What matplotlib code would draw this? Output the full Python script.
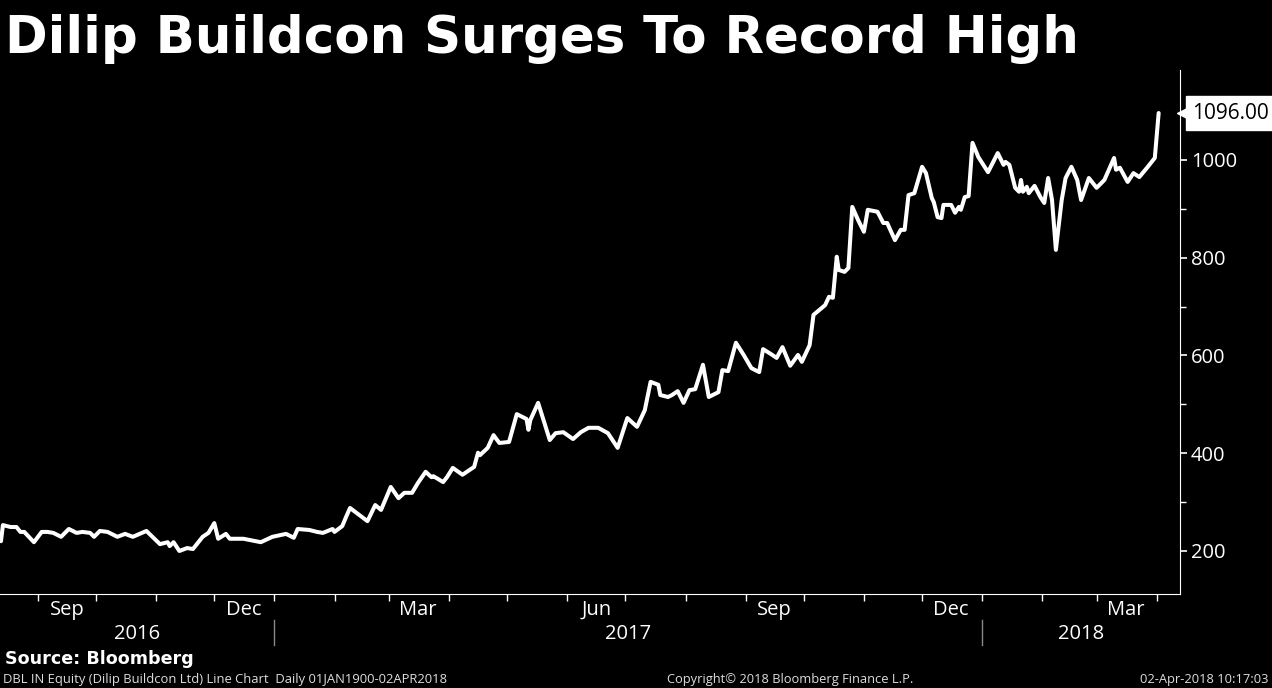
import matplotlib
matplotlib.use('Agg')
import matplotlib.pyplot as plt
import matplotlib.dates as mdates
import pandas as pd

# Kurs Dilip Buildcon (DBL IN)
dates = [
    '2016-08-13', '2016-08-14', '2016-08-18', '2016-08-21', '2016-08-23', '2016-08-25',
    '2016-08-30', '2016-09-03', '2016-09-06', '2016-09-09', '2016-09-13', '2016-09-17',
    '2016-09-21', '2016-09-24', '2016-09-28', '2016-09-30', '2016-10-03', '2016-10-07',
    '2016-10-12', '2016-10-16', '2016-10-20', '2016-10-27', '2016-11-03', '2016-11-07',
    '2016-11-08', '2016-11-10', '2016-11-13', '2016-11-17', '2016-11-20', '2016-11-25',
    '2016-11-28', '2016-12-01', '2016-12-03', '2016-12-07', '2016-12-09', '2016-12-16',
    '2016-12-25', '2016-12-31', '2017-01-07', '2017-01-11', '2017-01-13', '2017-01-19',
    '2017-01-23', '2017-01-26', '2017-01-31', '2017-02-01', '2017-02-05', '2017-02-07',
    '2017-02-09', '2017-02-13', '2017-02-18', '2017-02-22', '2017-02-25', '2017-03-02',
    '2017-03-06', '2017-03-09', '2017-03-13', '2017-03-16', '2017-03-20', '2017-03-23',
    '2017-03-24', '2017-03-29', '2017-03-31', '2017-04-03', '2017-04-08', '2017-04-14',
    '2017-04-16', '2017-04-17', '2017-04-21', '2017-04-24', '2017-04-27', '2017-05-02',
    '2017-05-06', '2017-05-11', '2017-05-12', '2017-05-13', '2017-05-17', '2017-05-23',
    '2017-05-26', '2017-05-30', '2017-06-04', '2017-06-08', '2017-06-12', '2017-06-17',
    '2017-06-22', '2017-06-27', '2017-07-02', '2017-07-07', '2017-07-11', '2017-07-14',
    '2017-07-18', '2017-07-19', '2017-07-23', '2017-07-25', '2017-07-28', '2017-07-31',
    '2017-08-03', '2017-08-06', '2017-08-10', '2017-08-13', '2017-08-18', '2017-08-20',
    '2017-08-23', '2017-08-27', '2017-08-31', '2017-09-04', '2017-09-08', '2017-09-10',
    '2017-09-14', '2017-09-17', '2017-09-20', '2017-09-24', '2017-09-28', '2017-09-30',
    '2017-10-04', '2017-10-06', '2017-10-12', '2017-10-14', '2017-10-16', '2017-10-18',
    '2017-10-19', '2017-10-22', '2017-10-24', '2017-10-26', '2017-10-29', '2017-11-01',
    '2017-11-03', '2017-11-08', '2017-11-11', '2017-11-13', '2017-11-17', '2017-11-20',
    '2017-11-22', '2017-11-24', '2017-11-27', '2017-12-01', '2017-12-03', '2017-12-06',
    '2017-12-07', '2017-12-09', '2017-12-11', '2017-12-12', '2017-12-16', '2017-12-18',
    '2017-12-20', '2017-12-21', '2017-12-23', '2017-12-25', '2017-12-27', '2017-12-30',
    '2018-01-04', '2018-01-09', '2018-01-12', '2018-01-13', '2018-01-15', '2018-01-18',
    '2018-01-20', '2018-01-21', '2018-01-22', '2018-01-24', '2018-01-25', '2018-01-28',
    '2018-01-31', '2018-02-02', '2018-02-04', '2018-02-06', '2018-02-08', '2018-02-11',
    '2018-02-13', '2018-02-16', '2018-02-19', '2018-02-21', '2018-02-25', '2018-03-01',
    '2018-03-05', '2018-03-10', '2018-03-11', '2018-03-13', '2018-03-17', '2018-03-20',
    '2018-03-23', '2018-03-27', '2018-03-31', '2018-04-02',
]
prices = [
    220, 253, 249, 249, 239, 239,
    218, 239, 239, 237, 229, 245,
    237, 239, 237, 229, 241, 239,
    229, 235, 229, 241, 214, 218,
    210, 218, 200, 206, 204, 229,
    237, 257, 225, 235, 225, 225,
    218, 229, 235, 227, 245, 243,
    239, 237, 245, 239, 251, 270,
    288, 276, 261, 294, 284, 331,
    308, 319, 319, 339, 362, 351,
    353, 341, 351, 370, 356, 372,
    401, 396, 411, 437, 421, 423,
    480, 470, 448, 468, 503, 427,
    441, 443, 429, 443, 452, 452,
    441, 411, 472, 454, 488, 546,
    540, 519, 515, 519, 527, 503,
    529, 531, 581, 515, 525, 570,
    568, 626, 601, 574, 566, 613,
    603, 595, 617, 579, 601, 587,
    621, 683, 703, 720, 718, 802,
    775, 771, 779, 904, 877, 853,
    898, 894, 871, 871, 836, 857,
    857, 928, 932, 986, 973, 922,
    914, 883, 881, 908, 908, 892,
    904, 898, 924, 926, 1035, 1006,
    975, 1014, 990, 996, 990, 943,
    935, 959, 935, 945, 932, 947,
    924, 912, 963, 918, 816, 918,
    963, 986, 959, 918, 963, 943,
    959, 1004, 980, 984, 955, 973,
    965, 984, 1004, 1096,
]
last_label = '1096.00'

y_ticks = [200, 400, 600, 800, 1000]
y_minor = [300, 500, 700, 900]
month_labels = ['Sep', 'Dec', 'Mar', 'Jun']
years = [2016, 2017, 2018]

x_start = pd.Timestamp('2016-08-12 12:00')
x_end = pd.Timestamp('2018-04-13')

dts = pd.to_datetime(dates)

font = 'Open Sans'

fig = plt.figure(figsize=(12.72, 6.88), dpi=100, facecolor='black')
ax = fig.add_axes([0, 1 - 594 / 688, 1180 / 1272, (594 - 70) / 688])
ax.set_facecolor('black')

ax.plot(dts, prices, color='white', lw=2.9, solid_joinstyle='round',
        solid_capstyle='round')

ax.set_xlim(x_start, x_end)
ax.set_ylim(112, 1184)

for s in ['top', 'left']:
    ax.spines[s].set_visible(False)
ax.spines['right'].set_color('white')
ax.spines['bottom'].set_color('white')

# oś Y po prawej
ax.yaxis.tick_right()
ax.set_yticks(y_ticks)
ax.set_yticks(y_minor, minor=True)
ax.tick_params(axis='y', which='major', colors='white', length=5, width=1.2,
               pad=3, labelsize=14.5)
ax.tick_params(axis='y', which='minor', colors='white', length=4, width=1)
for lbl in ax.get_yticklabels():
    lbl.set_fontfamily(font)

# oś X: kreski na początku miesięcy, etykiety w środku miesiąca
ax.xaxis.set_major_locator(mdates.MonthLocator())
ax.xaxis.set_major_formatter(plt.NullFormatter())
ax.tick_params(axis='x', which='major', colors='white', length=5, width=1)

trans = ax.get_xaxis_transform()
for m in pd.date_range('2016-08-01', '2018-04-01', freq='MS'):
    name = m.strftime('%b')
    if name in month_labels:
        mid = m + pd.Timedelta(days=15)
        ax.text(mid, -0.03, name, transform=trans, ha='center', va='center',
                color='white', fontsize=14.5, family=font, clip_on=False)

for yr in years:
    a = max(pd.Timestamp(f'{yr}-01-01'), x_start)
    b = min(pd.Timestamp(f'{yr + 1}-01-01'), x_end)
    mid = a + (b - a) / 2
    ax.text(mid, -0.077, str(yr), transform=trans, ha='center', va='center',
            color='white', fontsize=14.5, family=font, clip_on=False)
    if yr > years[0]:
        ax.plot([pd.Timestamp(f'{yr}-01-01')] * 2, [-0.05, -0.098], transform=trans,
                color='#888888', lw=1, clip_on=False)

# etykieta ostatniej wartości: biały prostokąt z małym grotem w lewo
ytr = ax.get_yaxis_transform()
ax.text(1.0 + 12 / 1180, prices[-1], last_label, transform=ytr, ha='left',
        va='center', fontsize=15, family=font, color='black', clip_on=False,
        bbox=dict(boxstyle='square,pad=0.3', fc='white', ec='white'))
ax.plot([1.0 + 3 / 1180], [prices[-1]], transform=ytr, marker='<', ms=9,
        color='white', clip_on=False)

fig.text(5 / 1272, 1 - 53 / 688, 'Dilip Buildcon Surges To Record High',
         color='white', fontsize=37, fontweight='bold', family='DejaVu Sans',
         ha='left', va='baseline')

fig.text(5 / 1272, 1 - 659 / 688, 'Source: Bloomberg', color='white', fontsize=12.6,
         fontweight='bold', family='DejaVu Sans', ha='left', va='center')
fig.text(3 / 1272, 1 - 679 / 688,
         'DBL IN Equity (Dilip Buildcon Ltd) Line Chart  Daily 01JAN1900-02APR2018',
         color='#dddddd', fontsize=9.4, family=font, ha='left', va='center')
fig.text(790 / 1272, 1 - 679 / 688, 'Copyright\u00a9 2018 Bloomberg Finance L.P.',
         color='#dddddd', fontsize=9.3, family=font, ha='center', va='center')
fig.text(1268 / 1272, 1 - 679 / 688, '02-Apr-2018 10:17:03',
         color='#dddddd', fontsize=9.3, family=font, ha='right', va='center')

fig.savefig('out.png', dpi=100, facecolor='black')
